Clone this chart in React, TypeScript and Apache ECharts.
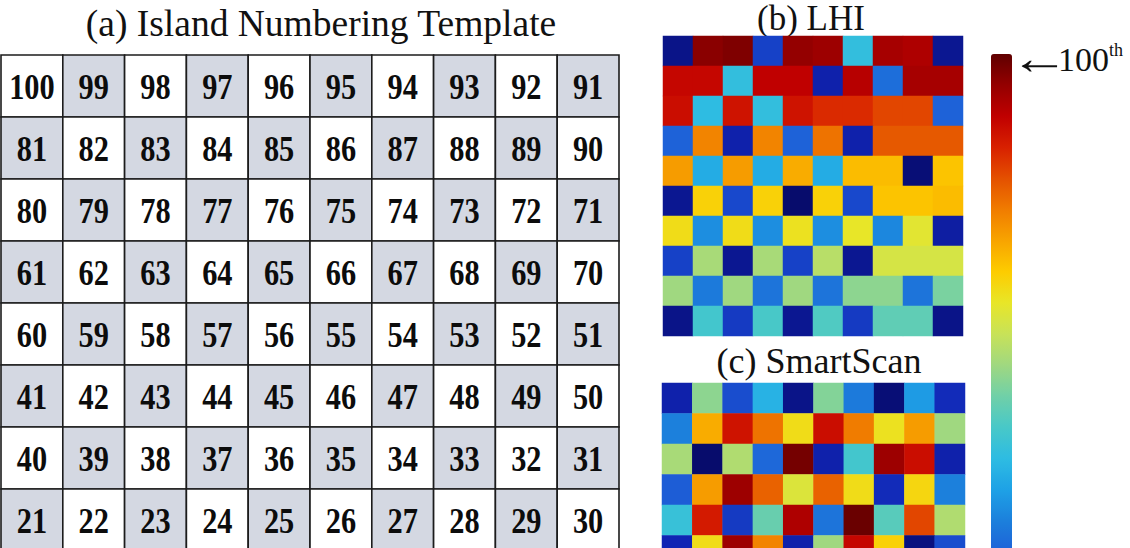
import React, { useEffect, useRef } from "react";
import * as echarts from "echarts";

// ---------- data ----------
const columnLabels = ["1", "2", "3", "4", "5", "6", "7", "8", "9", "10"];
const templateRowLabels = ["r10", "r9", "r8", "r7", "r6", "r5", "r4", "r3"];
const templateRows: number[][] = [
  [100, 99, 98, 97, 96, 95, 94, 93, 92, 91],
  [81, 82, 83, 84, 85, 86, 87, 88, 89, 90],
  [80, 79, 78, 77, 76, 75, 74, 73, 72, 71],
  [61, 62, 63, 64, 65, 66, 67, 68, 69, 70],
  [60, 59, 58, 57, 56, 55, 54, 53, 52, 51],
  [41, 42, 43, 44, 45, 46, 47, 48, 49, 50],
  [40, 39, 38, 37, 36, 35, 34, 33, 32, 31],
  [21, 22, 23, 24, 25, 26, 27, 28, 29, 30],
];

const lhiRowLabels = ["r10", "r9", "r8", "r7", "r6", "r5", "r4", "r3", "r2", "r1"];
const lhiValues: number[][] = [
  [5, 96, 97, 14, 95, 94, 36, 93, 92, 6],
  [89, 89, 36, 90, 90, 9, 91, 22, 93, 93],
  [88, 35, 87, 36, 87, 84, 84, 81, 81, 20],
  [20, 74, 9, 74, 20, 76, 9, 79, 79, 79],
  [71, 32, 71, 32, 69, 32, 67, 67, 3, 66],
  [6, 64, 15, 64, 2, 64, 15, 66, 66, 67],
  [62, 27, 62, 27, 61, 27, 60, 26, 59, 8],
  [14, 51, 6, 51, 14, 53, 6, 57, 57, 57],
  [50, 24, 50, 23, 50, 23, 48, 48, 23, 46],
  [5, 39, 13, 40, 6, 41, 13, 43, 43, 5],
];

const smartRowLabels = ["r10", "r9", "r8", "r7", "r6", "r5"];
const smartScanValues: number[][] = [
  [9, 48, 16, 33, 5, 47, 24, 3, 29, 11],
  [25, 69, 87, 76, 62, 88, 75, 61, 71, 50],
  [51, 2, 52, 21, 98, 9, 39, 94, 88, 9],
  [19, 71, 94, 78, 58, 78, 62, 11, 63, 25],
  [37, 86, 13, 44, 92, 23, 99, 42, 81, 52],
  [10, 62, 94, 74, 9, 50, 89, 64, 4, 16],
];

const percentileMin = 0;
const percentileMax = 100;

const titleA = "(a) Island Numbering Template";
const titleB = "(b) LHI";
const titleC = "(c) SmartScan";
const colorbarArrow = "\u2190";
const colorbarNumber = "100";
const colorbarSup = "th";

// ---------- styling ----------
const jetColors = [
  "#05065a", "#0a1488", "#1024b4", "#1848cc", "#1e62d8", "#1c80dc",
  "#1ea2e6", "#2ebce2", "#48c8c8", "#70d0a8", "#a0d880", "#c8e258",
  "#e8e628", "#fdcc00", "#f8a400", "#f07c00", "#e45000", "#d82000",
  "#c00000", "#940000", "#600000",
];
const SERIF = '"Liberation Serif", "Times New Roman", serif';

function toCells(rows: number[][]) {
  const out: number[][] = [];
  rows.forEach((row, r) => row.forEach((v, c) => out.push([c, r, v])));
  return out;
}

export default function App() {
  const ref = useRef<HTMLDivElement>(null);

  useEffect(() => {
    if (!ref.current) return;
    const chart = echarts.init(ref.current, null, { renderer: "svg" });

    const option: any = {
      animation: false,
      backgroundColor: "#ffffff",
      grid: [
        { left: 1, top: 55, width: 618, height: 62 * templateRowLabels.length, outerBoundsMode: "none" },
        { left: 663, top: 36, width: 300, height: 300, outerBoundsMode: "none" },
        { left: 662, top: 383, width: 303, height: 30.5 * smartRowLabels.length, outerBoundsMode: "none" },
      ],
      xAxis: [0, 1, 2].map((i) => ({
        type: "category",
        gridIndex: i,
        data: columnLabels,
        show: false,
      })),
      yAxis: [
        { type: "category", gridIndex: 0, data: templateRowLabels, inverse: true, show: false },
        { type: "category", gridIndex: 1, data: lhiRowLabels, inverse: true, show: false },
        { type: "category", gridIndex: 2, data: smartRowLabels, inverse: true, show: false },
      ],
      visualMap: {
        type: "continuous",
        min: percentileMin,
        max: percentileMax,
        seriesIndex: [1, 2],
        calculable: false,
        left: 991,
        top: 54,
        padding: 0,
        itemWidth: 21,
        itemHeight: 622,
        inRange: { color: jetColors },
        textStyle: { color: "transparent" },
      },
      series: [
        {
          type: "custom",
          xAxisIndex: 0,
          yAxisIndex: 0,
          data: toCells(templateRows),
          renderItem: (_params: any, api: any) => {
            const c = api.value(0);
            const r = api.value(1);
            const n = api.value(2);
            const p = api.coord([c, r]);
            const s = api.size([1, 1]);
            const shaded = (c + r) % 2 === 1;
            return {
              type: "group",
              children: [
                {
                  type: "rect",
                  shape: { x: p[0] - s[0] / 2, y: p[1] - s[1] / 2, width: s[0], height: s[1] },
                  style: { fill: shaded ? "#d4d8e2" : "#ffffff", stroke: "#1c1c1c", lineWidth: 1.6 },
                },
                {
                  type: "text",
                  x: p[0],
                  y: p[1] + 1,
                  scaleX: 0.92,
                  scaleY: 1.08,
                  style: {
                    text: String(n),
                    fill: "#0c0c0c",
                    font: `bold 33px ${SERIF}`,
                    align: "center",
                    verticalAlign: "middle",
                  },
                },
              ],
            };
          },
        },
        {
          type: "heatmap",
          xAxisIndex: 1,
          yAxisIndex: 1,
          data: toCells(lhiValues),
          itemStyle: { borderWidth: 0 },
        },
        {
          type: "heatmap",
          xAxisIndex: 2,
          yAxisIndex: 2,
          data: toCells(smartScanValues),
          itemStyle: { borderWidth: 0 },
        },
      ],
      graphic: [
        {
          type: "text",
          x: 321,
          y: 23,
          style: { text: titleA, font: `37.5px ${SERIF}`, fill: "#111", align: "center", verticalAlign: "middle" },
        },
        {
          type: "text",
          x: 811,
          y: 18,
          style: { text: titleB, font: `35px ${SERIF}`, fill: "#111", align: "center", verticalAlign: "middle" },
        },
        {
          type: "text",
          x: 819,
          y: 361,
          style: { text: titleC, font: `36px ${SERIF}`, fill: "#111", align: "center", verticalAlign: "middle" },
        },
        {
          type: "text",
          x: 1010,
          y: 58,
          scaleX: 1.75,
          scaleY: 1.35,
          style: { text: colorbarArrow, font: `bold 34px ${SERIF}`, fill: "#111", align: "left", verticalAlign: "middle" },
        },
        {
          type: "text",
          x: 1058,
          y: 59,
          style: {
            text: `{num|${colorbarNumber}}{sup|${colorbarSup}}`,
            align: "left",
            verticalAlign: "middle",
            rich: {
              num: { font: `34px ${SERIF}`, fill: "#111", lineHeight: 36, verticalAlign: "middle" },
              sup: { font: `18px ${SERIF}`, fill: "#111", lineHeight: 18, verticalAlign: "top" },
            },
          },
        },
      ],
    };

    chart.setOption(option);
    return () => chart.dispose();
  }, []);

  return (
    <div
      ref={ref}
      style={{ position: "absolute", left: 0, top: 0, width: 1130, height: 548, overflow: "hidden" }}
    />
  );
}
